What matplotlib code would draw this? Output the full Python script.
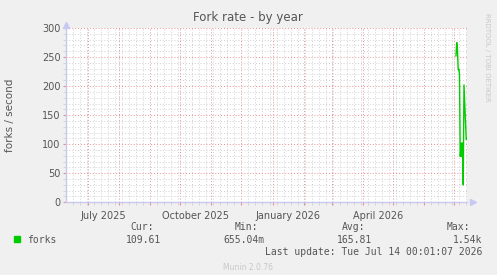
import pandas as pd
import matplotlib
matplotlib.use('Agg')
import matplotlib.pyplot as plt
import matplotlib.dates as mdates
from matplotlib.ticker import MultipleLocator

# datos (forks por segundo)
fechas = ['2026-07-03 00:00', '2026-07-03 18:00', '2026-07-04 12:00', '2026-07-05 06:00',
          '2026-07-06 00:00', '2026-07-06 12:00', '2026-07-07 06:00', '2026-07-08 12:00',
          '2026-07-09 06:00', '2026-07-09 12:00', '2026-07-10 06:00', '2026-07-11 00:00',
          '2026-07-12 06:00', '2026-07-13 06:00', '2026-07-13 18:00']
forks = [252, 275, 262, 228, 229, 219, 79, 102, 78, 102, 30, 202, 150, 108, 109.61]

etiquetas_x = ['July 2025', 'October 2025', 'January 2026', 'April 2026']
fechas_etiquetas = ['2025-07-16', '2025-10-16', '2026-01-16', '2026-04-16']
inicio = '2025-06-09 00:01:07'
fin = '2026-07-14 00:01:07'

leyenda_titulos = ['Cur:', 'Min:', 'Avg:', 'Max:']
leyenda_valores = ['109.61', '655.04m', '165.81', '1.54k']

gris_texto = '#555555'
verde = '#00CC00'
eje = '#C8C8F0'

fig = plt.figure(figsize=(4.97, 2.75), dpi=100, facecolor='#F0F0F0')
ax = fig.add_axes([66 / 497, 72.7 / 275, 401 / 497, 174.3 / 275])
ax.set_facecolor('white')

t = pd.to_datetime(fechas)
ax.plot(t, forks, color=verde, linewidth=1.0, zorder=3)

ax.set_xlim(pd.Timestamp(inicio), pd.Timestamp(fin))
ax.set_ylim(0, 300)

# rejilla: meses en rojo, semanas en gris
ax.xaxis.set_major_locator(mdates.MonthLocator())
ax.xaxis.set_minor_locator(mdates.WeekdayLocator(byweekday=mdates.MO))
ax.yaxis.set_major_locator(MultipleLocator(50))
ax.yaxis.set_minor_locator(MultipleLocator(10))
ax.grid(which='minor', color='#D0D0D0', linestyle=(0, (1, 2)), linewidth=0.7)
ax.grid(which='major', color='#E89090', linestyle=(0, (1, 2)), linewidth=0.7)
ax.set_axisbelow(True)
ax.set_xticklabels([])
ax.tick_params(axis='x', which='major', length=2, color='#E89090')
ax.tick_params(axis='x', which='minor', length=2, color='#D0D0D0')
ax.tick_params(axis='y', which='major', length=2, color='#E89090', labelsize=7,
               labelcolor=gris_texto, pad=2)
ax.tick_params(axis='y', which='minor', length=2, color='#D0D0D0')

for f, txt in zip(fechas_etiquetas, etiquetas_x):
    ax.text(pd.Timestamp(f), -0.05, txt, transform=ax.get_xaxis_transform(),
            ha='center', va='top', fontsize=7, color=gris_texto)

for s in ['top', 'right']:
    ax.spines[s].set_visible(False)
for s in ['left', 'bottom']:
    ax.spines[s].set_color(eje)
    ax.spines[s].set_linewidth(1)
ax.plot([1.015], [0], marker='>', color=eje, markersize=4, transform=ax.transAxes, clip_on=False)
ax.plot([0], [1.015], marker='^', color=eje, markersize=4, transform=ax.transAxes, clip_on=False)

fig.text(248 / 497, 1 - 18 / 275, 'Fork rate - by year', ha='center', va='center',
         fontsize=8.5, color=gris_texto)
fig.text(10 / 497, 1 - 115 / 275, 'forks / second', rotation=90, ha='center', va='center',
         fontsize=7.5, color=gris_texto)
fig.text(487 / 497, 1 - 57 / 275, 'RRDTOOL / TOBI OETIKER', rotation=270, ha='center',
         va='center', fontsize=5, color='#C8C8C8')
fig.text(248 / 497, 1 - 267 / 275, 'Munin 2.0.76', ha='center', va='center',
         fontsize=5.5, color='#C8C8C8')

# leyenda estilo munin
mono = 'DejaVu Sans Mono'
fig.patches.append(plt.Rectangle((14 / 497, 1 - 242 / 275), 6 / 497, 6 / 275,
                                 transform=fig.transFigure, color=verde))
fig.text(27 / 497, 1 - 240 / 275, 'forks', ha='left', va='center', fontsize=7,
         family=mono, color=gris_texto)
x_titulos = [154, 258, 365, 470]
x_valores = [161, 264, 372, 482]
for xt, xv, tit, val in zip(x_titulos, x_valores, leyenda_titulos, leyenda_valores):
    fig.text(xt / 497, 1 - 227 / 275, tit, ha='right', va='center', fontsize=7,
             family=mono, color=gris_texto)
    fig.text(xv / 497, 1 - 240 / 275, val, ha='right', va='center', fontsize=7,
             family=mono, color=gris_texto)
fig.text(482 / 497, 1 - 252 / 275, 'Last update: Tue Jul 14 00:01:07 2026', ha='right',
         va='center', fontsize=7, family=mono, color=gris_texto)

fig.savefig('out.png', dpi=100, facecolor=fig.get_facecolor())
